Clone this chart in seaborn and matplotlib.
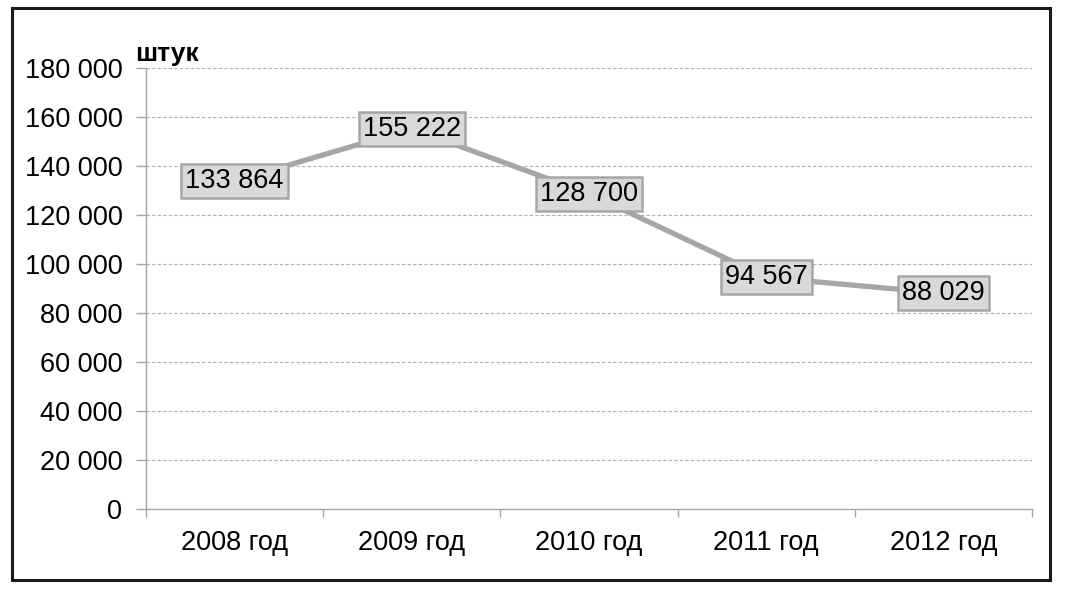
import matplotlib
matplotlib.use("Agg")
import matplotlib.pyplot as plt
import seaborn as sns
import pandas as pd
from matplotlib.patches import Rectangle
from matplotlib.ticker import FixedLocator, FuncFormatter

years = ["2008 год", "2009 год", "2010 год", "2011 год", "2012 год"]
values = [133864, 155222, 128700, 94567, 88029]
unit_label = "штук"

sns.set_theme(style="white")
plt.rcParams['font.family'] = ['Liberation Sans', 'DejaVu Sans']

fig = plt.figure(figsize=(10.71, 5.97), dpi=100)
ax = fig.add_axes([146/1071, 1-509/597, (1032-146)/1071, (509-68)/597])

df = pd.DataFrame({"year": years, "value": values})
sns.lineplot(data=df, x="year", y="value", sort=False, ax=ax,
             color="#a6a6a6", linewidth=3.8, zorder=2)

ax.set_xlim(-0.5, len(years) - 0.5)
ax.set_ylim(0, 180000)
ax.set_yticks(range(0, 180001, 20000))
ax.yaxis.set_major_formatter(FuncFormatter(lambda v, p: f"{int(v):,}".replace(",", " ")))
ax.set_xticks(range(len(years)))
ax.set_xticklabels(years)
ax.xaxis.set_minor_locator(FixedLocator([i - 0.5 for i in range(len(years) + 1)]))
ax.tick_params(axis="x", which="major", length=0, pad=15, labelsize=19.5, colors="black")
ax.tick_params(axis="x", which="minor", length=6, width=1, color="#a6a6a6", bottom=True)
ax.tick_params(axis="y", which="major", length=7, width=1, color="#a6a6a6", pad=10,
               labelsize=19.5, labelcolor="black", left=True)
ax.set_xlabel("")
ax.set_ylabel("")

for y in range(20000, 180001, 20000):
    ax.axhline(y, color="#b0b0b0", linewidth=0.8, linestyle=(0, (3, 2)), zorder=1)

for s in ["top", "right"]:
    ax.spines[s].set_visible(False)
for s in ["left", "bottom"]:
    ax.spines[s].set_color("#a6a6a6")
    ax.spines[s].set_linewidth(1)

for i, v in enumerate(values):
    ax.text(i, v, f"{v:,}".replace(",", " "), ha="center", va="center", fontsize=19.5,
            color="black", zorder=5,
            bbox=dict(boxstyle="square,pad=0.15", facecolor="#d9d9d9",
                      edgecolor="#a6a6a6", linewidth=1.8))

fig.text(135/1071, 1-61/597, unit_label, fontsize=19, fontweight="bold",
         ha="left", va="baseline", color="black")

fig.patches.append(Rectangle((12/1071, 1-580/597), (1050-12)/1071, (580-8)/597,
                             transform=fig.transFigure, fill=False,
                             edgecolor="#1a1a1a", linewidth=2.2))

fig.savefig("out.png", dpi=100)
